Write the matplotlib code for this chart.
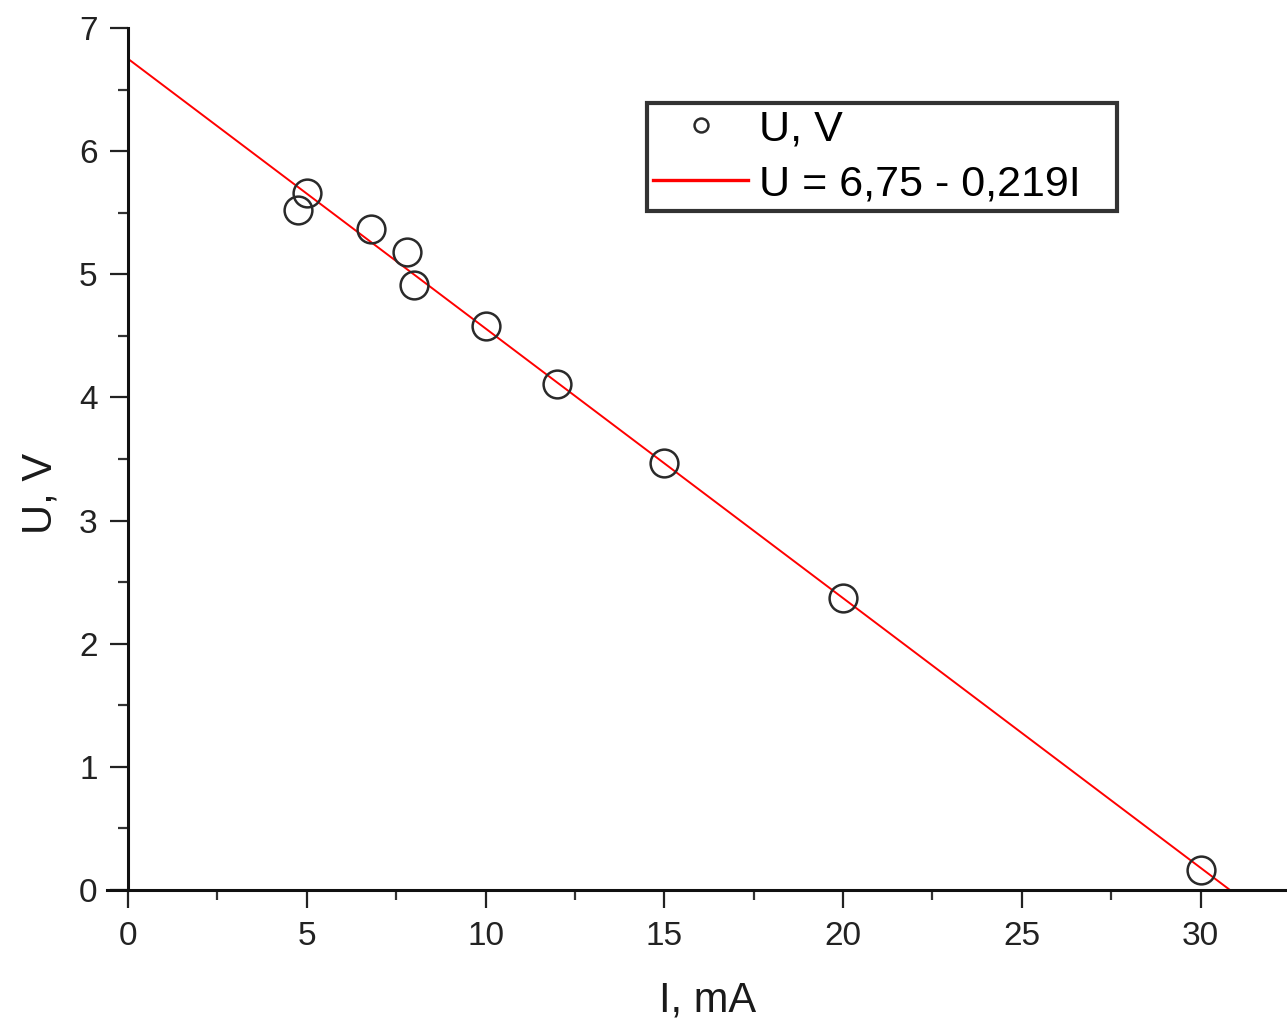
import matplotlib
matplotlib.use('Agg')
import matplotlib.pyplot as plt
import numpy as np

plt.rcParams['font.family'] = ['Liberation Sans', 'DejaVu Sans']

# measured points (I in mA, U in V)
current = [4.75, 5.0, 6.8, 7.8, 8.0, 10.0, 12.0, 15.0, 20.0, 30.0]
voltage = [5.52, 5.66, 5.37, 5.18, 4.91, 4.58, 4.11, 3.47, 2.37, 0.16]

# linear fit U = a - b*I
fit_a = 6.75
fit_b = 0.219
fit_i = [0.0, fit_a / fit_b]

fig = plt.figure(figsize=(12.87, 10.31), dpi=100)
ax = fig.add_axes([0.0995, 0.1368, 0.9, 0.836])

ax.plot(current, voltage, 'o', mfc='none', mec='#2a2a2a', ms=20, mew=1.8,
        label='U, V', zorder=3)
ax.plot(fit_i, [fit_a - fit_b * i for i in fit_i], color='red', lw=1.4,
        label='U = 6,75 - 0,219I', zorder=2)

ax.set_xlim(0, 32.4)
ax.set_ylim(0, 7)
ax.set_xticks(np.arange(0, 31, 5))
ax.set_xticks(np.arange(0, 32.5, 2.5), minor=True)
ax.set_yticks(np.arange(0, 8, 1))
ax.set_yticks(np.arange(0, 7.5, 0.5), minor=True)

for s in ['top', 'right']:
    ax.spines[s].set_visible(False)
for s in ['left', 'bottom']:
    ax.spines[s].set_linewidth(2.2)
    ax.spines[s].set_color('#111111')
ax.spines['bottom'].set_bounds(-0.6, 32.4)

ax.tick_params(which='major', direction='out', length=13, width=1.6, labelsize=24,
               colors='#222222', pad=9)
ax.tick_params(which='minor', direction='out', length=7.5, width=1.6, colors='#333333')

ax.set_xlabel('I, mA', fontsize=30, labelpad=21, color='#1a1a1a')
ax.set_ylabel('U, V', fontsize=30, color='#1a1a1a')
ax.yaxis.set_label_coords(-0.058, 0.46)

leg = ax.legend(loc='upper left',
                bbox_to_anchor=(647 / 1287, 1 - 210 / 1031, 470 / 1287, 107 / 1031),
                bbox_transform=fig.transFigure, mode='expand', borderaxespad=0,
                fontsize=31, fancybox=False, framealpha=1, markerscale=0.5,
                handlelength=2.2, handletextpad=0.25, borderpad=0.15,
                labelspacing=0.35)
leg.get_frame().set_edgecolor('#333333')
leg.get_frame().set_linewidth(3)
leg.get_lines()[1].set_linewidth(2.4)

fig.savefig('out.png', dpi=100)
